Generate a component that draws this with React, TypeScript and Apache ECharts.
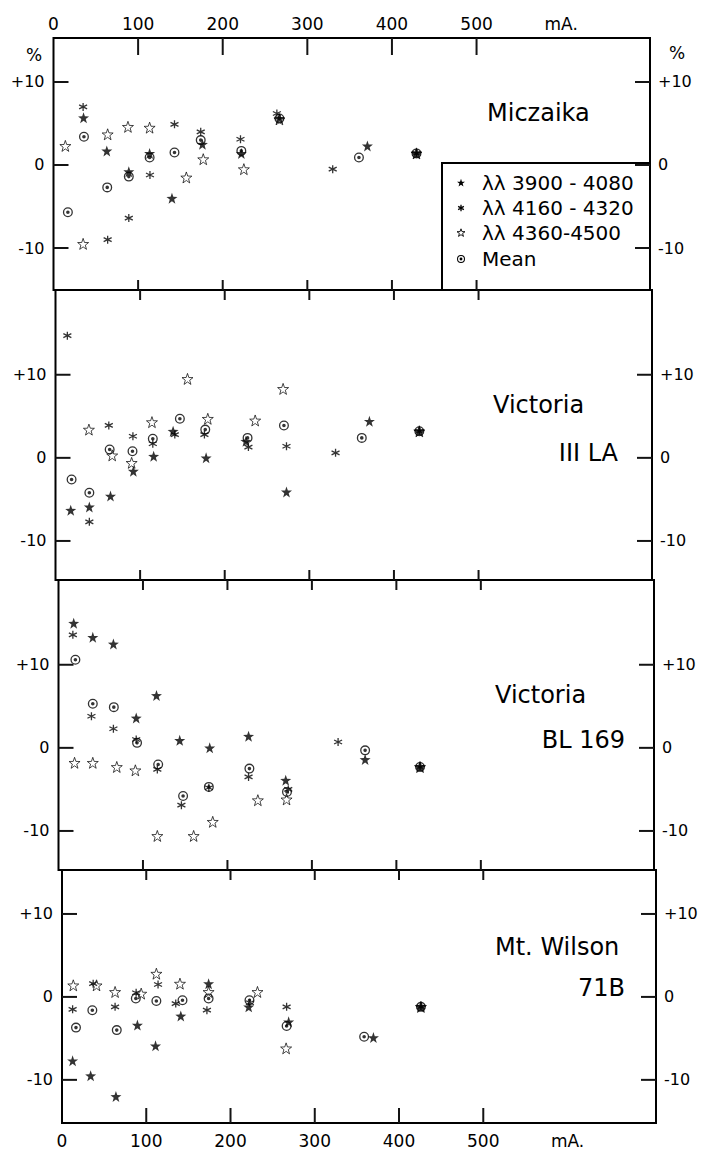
import React, { useEffect, useRef } from "react";
import * as echarts from "echarts";

// ---- Data (mA, % deviation) ----
const seriesNames = ["λλ 3900 - 4080", "λλ 4160 - 4320", "λλ 4360-4500", "Mean"];
const panelTitles = ["Miczaika", "Victoria", "Victoria", "Mt. Wilson"];
const panelSubtitles = ["", "III LA", "BL 169", "71B"];
const xTickValues = [100, 200, 300, 400, 500];
const xLabelValues = [0, 100, 200, 300, 400, 500, 600];
const yTickValues = [-10, 0, 10];

// Miczaika
const micA = [[35.5, 5.7], [63, 1.7], [89, -0.8], [113.6, 1.4], [140, -4.0], [176, 2.5], [222, 1.4], [267, 5.6], [371, 2.3], [429, 1.4]];
const micB = [[35, 7.0], [64, -9.0], [89, -6.4], [114, -1.2], [143, 4.9], [174, 4.0], [221, 3.1], [264, 6.2], [330, -0.5], [429, 1.4]];
const micC = [[14, 2.3], [35, -9.5], [64, 3.7], [88, 4.6], [113.6, 4.5], [157, -1.5], [177, 0.7], [225, -0.5], [267, 5.5], [429, 1.4]];
const micM = [[17, -5.7], [36, 3.4], [63.5, -2.7], [89, -1.4], [113.6, 0.9], [143, 1.5], [174, 3.0], [222, 1.7], [267, 5.6], [361, 0.9], [429, 1.4]];

// Victoria III LA
const vlaA = [[18, -6.3], [40, -5.9], [65, -4.6], [92, -1.6], [116, 0.2], [139, 3.2], [178, 0], [225, 2.0], [273, -4.1], [371, 4.4], [430, 3.2]];
const vlaB = [[14, 14.7], [40, -7.7], [63, 3.9], [91.5, 2.6], [115, 1.7], [141, 2.8], [176, 2.8], [228, 1.3], [273, 1.4], [331, 0.6], [430, 3.2]];
const vlaC = [[39.5, 3.4], [67, 0.3], [90, -0.6], [114, 4.3], [156, 9.5], [180, 4.7], [236, 4.5], [269, 8.3], [430, 3.2]];
const vlaM = [[19, -2.6], [40, -4.2], [64, 1.0], [91, 0.8], [115, 2.3], [147, 4.7], [177, 3.4], [227, 2.4], [270, 3.9], [362, 2.4], [430, 3.2]];

// Victoria BL 169
const vblA = [[18, 15.0], [40.6, 13.3], [65, 12.5], [92, 3.6], [116, 6.3], [143.5, 0.9], [179, 0], [225, 1.4], [269, -3.9], [363, -1.4], [428, -2.3]];
const vblB = [[17, 13.6], [39, 3.8], [65, 2.3], [92, 1.0], [117, -2.6], [145.5, -6.9], [178, -4.8], [225, -3.5], [272, -5.0], [331, 0.7], [428, -2.3]];
const vblC = [[19, -1.8], [40.6, -1.8], [69, -2.3], [91, -2.7], [117, -10.6], [160, -10.6], [182.6, -8.9], [236, -6.3], [270, -6.2], [428, -2.3]];
const vblM = [[20, 10.6], [40.6, 5.3], [65.5, 4.9], [93, 0.6], [118, -2.0], [147.5, -5.8], [178, -4.7], [226, -2.5], [270.5, -5.3], [363, -0.3], [428, -2.3]];

// Mt. Wilson 71B
const mwA = [[12.6, -7.7], [34, -9.5], [64, -12.0], [89.5, -3.4], [111, -5.9], [141, -2.3], [174, 1.6], [221.6, -1.2], [269, -3.0], [369.6, -4.9], [426, -1.2]];
const mwB = [[12.6, -1.5], [37, 1.6], [63, -1.2], [88, 0.5], [114, 1.5], [135, -0.8], [172, -1.6], [223, -0.7], [266.6, -1.2], [426, -1.2]];
const mwC = [[13.4, 1.4], [41, 1.4], [63, 0.6], [94, 0.4], [112, 2.8], [140, 1.6], [174, 0.6], [232, 0.6], [266, -6.2], [426, -1.2]];
const mwM = [[16.6, -3.7], [36, -1.6], [65, -4.0], [87.6, -0.2], [112, -0.5], [143, -0.4], [174, -0.2], [222.5, -0.4], [266.6, -3.5], [358.6, -4.8], [426, -1.2]];

const panelData = [
  [micA, micB, micC, micM],
  [vlaA, vlaB, vlaC, vlaM],
  [vblA, vblB, vblC, vblM],
  [mwA, mwB, mwC, mwM],
];

// ---- Layout ----
const W = 701;
const H = 1150;
const FONT = '"DejaVu Sans", sans-serif';
const gridBoxes = [
  { left: 53.5, right: 51, top: 38, height: 252 },
  { left: 55.5, right: 49, top: 290, height: 290 },
  { left: 58.5, right: 47, top: 580, height: 290 },
  { left: 62, right: 45, top: 870, height: 253 },
];
const yRanges = [
  [-15.06, 15.3],
  [-14.7, 20.2],
  [-14.7, 20.2],
  [-15.2, 15.3],
];
const X_MAX = 705;

const STAR_D = "M0,-10L2.35,-3.24L9.51,-3.09L3.8,1.24L5.88,8.09L0,4L-5.88,8.09L-3.8,1.24L-9.51,-3.09L-2.35,-3.24Z";
const ASTER_D = "M0,-10L0,10M-8.66,-5L8.66,5M-8.66,5L8.66,-5";
const MEAN_D =
  "M0,-10A10,10,0,1,1,0,10A10,10,0,1,1,0,-10ZM0,-7.4A7.4,7.4,0,1,0,0,7.4A7.4,7.4,0,1,0,0,-7.4ZM0,-3.6A3.6,3.6,0,1,1,0,3.6A3.6,3.6,0,1,1,0,-3.6Z";

const shapeNames = ["legStar", "legAster", "legStar", "legMean"];
let shapesRegistered = false;
function registerShapes() {
  if (shapesRegistered) return;
  shapesRegistered = true;
  echarts.graphic.registerShape("legStar", echarts.graphic.extendPath(STAR_D, {}) as any);
  echarts.graphic.registerShape("legAster", echarts.graphic.extendPath(ASTER_D, {}) as any);
  echarts.graphic.registerShape("legMean", echarts.graphic.extendPath(MEAN_D, {}) as any);
}

const symbolDefs = [
  { symbol: "path://" + STAR_D, size: 11, itemStyle: { color: "#000", borderWidth: 0 } },
  { symbol: "path://" + ASTER_D, size: 8, itemStyle: { color: "rgba(0,0,0,0)", borderColor: "#000", borderWidth: 1.3 } },
  { symbol: "path://" + STAR_D, size: 11, itemStyle: { color: "rgba(255,255,255,0)", borderColor: "#000", borderWidth: 0.9 } },
  { symbol: "path://" + MEAN_D, size: 10, itemStyle: { color: "#000", borderWidth: 0 } },
];
const legendStyles = [
  { scale: 0.42, style: { fill: "#000", stroke: "none" } },
  { scale: 0.33, style: { fill: "none", stroke: "#000", lineWidth: 1.3, strokeNoScale: true } },
  { scale: 0.42, style: { fill: "none", stroke: "#000", lineWidth: 0.9, strokeNoScale: true } },
  { scale: 0.4, style: { fill: "#000", stroke: "none" } },
];

const TICK_FILL = { fill: "#141414" };

function buildOption() {
  const grid = gridBoxes.map((g) => ({
    left: g.left,
    right: g.right,
    top: g.top,
    height: g.height,
    show: true,
    borderColor: "#000",
    borderWidth: 2,
    backgroundColor: "transparent",
  }));

  const xAxis: any[] = [];
  const yAxis: any[] = [];
  gridBoxes.forEach((_, g) => {
    ["bottom", "top"].forEach((pos) => {
      const isOuterTop = g === 0 && pos === "top";
      const isOuterBottom = g === 3 && pos === "bottom";
      xAxis.push({
        type: "value",
        gridIndex: g,
        position: pos,
        min: 0,
        max: X_MAX,
        axisLine: { show: false, onZero: false },
        splitLine: { show: false },
        axisTick: { show: false },
        axisLabel: {
          show: isOuterTop || isOuterBottom,
          customValues: xLabelValues,
          formatter: (v: number) => (v === 600 ? "mA." : String(v)),
          color: "#000",
          fontSize: 17,
          fontFamily: FONT,
          margin: isOuterTop ? 6 : 9,
        },
      });
    });
    ["left", "right"].forEach((pos) => {
      yAxis.push({
        type: "value",
        gridIndex: g,
        position: pos,
        min: yRanges[g][0],
        max: yRanges[g][1],
        axisLine: { show: false, onZero: false },
        splitLine: { show: false },
        axisTick: { show: false },
        axisLabel: {
          show: true,
          customValues: yTickValues,
          formatter: (v: number) => (v > 0 ? "+" + v : String(v)),
          color: "#000",
          fontSize: 16,
          fontFamily: FONT,
          margin: pos === "left" ? 9 : 8,
        },
      });
    });
  });

  const series: any[] = [];
  panelData.forEach((sets, g) => {
    sets.forEach((data, k) => {
      const d = symbolDefs[k];
      series.push({
        type: "scatter",
        name: seriesNames[k],
        xAxisIndex: 2 * g,
        yAxisIndex: 2 * g,
        data,
        symbol: d.symbol,
        symbolSize: d.size,
        itemStyle: d.itemStyle,
        z: k === 3 ? 3 : 2,
        silent: true,
      });
    });

    // tick marks, placed through the axes' scales, drawn as thin filled rects
    const yMin = yRanges[g][0];
    const yMax = yRanges[g][1];
    const lenTop = g === 0 ? 17 : 10;
    const lenBot = g === 3 ? 15 : 10;
    series.push({
      type: "custom",
      name: "xticks" + g,
      xAxisIndex: 2 * g,
      yAxisIndex: 2 * g,
      silent: true,
      z: 30,
      clip: false,
      data: xTickValues.map((v) => [v, 0]),
      renderItem: (params: any, api: any) => {
        const v = api.value(0);
        const pt = api.coord([v, yMax]);
        const pb = api.coord([v, yMin]);
        return {
          type: "group",
          children: [
            { type: "rect", shape: { x: pt[0] - 1, y: pt[1], width: 2, height: lenTop }, style: TICK_FILL },
            { type: "rect", shape: { x: pb[0] - 1, y: pb[1] - lenBot, width: 2, height: lenBot }, style: TICK_FILL },
          ],
        };
      },
    });
    series.push({
      type: "custom",
      name: "yticks" + g,
      xAxisIndex: 2 * g,
      yAxisIndex: 2 * g,
      silent: true,
      z: 30,
      clip: false,
      data: yTickValues.map((v) => [0, v]),
      renderItem: (params: any, api: any) => {
        const v = api.value(1);
        const pl = api.coord([0, v]);
        const pr = api.coord([X_MAX, v]);
        return {
          type: "group",
          children: [
            { type: "rect", shape: { x: pl[0], y: pl[1] - 1, width: 15, height: 2 }, style: TICK_FILL },
            { type: "rect", shape: { x: pr[0] - 15, y: pr[1] - 1, width: 15, height: 2 }, style: TICK_FILL },
          ],
        };
      },
    });
  });

  const titleY = [113, 405, 695, 947];
  const titleX = [487, 493, 495, 495];
  const subY = [0, 453, 740, 988];
  const subX = [0, 618, 625, 625];

  const graphic: any[] = [
    {
      type: "rect",
      shape: { x: 442, y: 163, width: 208, height: 127 },
      style: { fill: "none", stroke: "#000", lineWidth: 2 },
      silent: true,
    },
    {
      type: "text",
      x: 34,
      y: 55,
      style: { text: "%", fontSize: 17, fontFamily: FONT, fill: "#000", textAlign: "center", textVerticalAlign: "middle" },
    },
    {
      type: "text",
      x: 677,
      y: 53,
      style: { text: "%", fontSize: 17, fontFamily: FONT, fill: "#000", textAlign: "center", textVerticalAlign: "middle" },
    },
  ];
  const legendRows = [183, 208, 233, 259];
  seriesNames.forEach((name, k) => {
    const ls = legendStyles[k];
    graphic.push({
      type: shapeNames[k],
      x: 461,
      y: legendRows[k],
      scaleX: ls.scale,
      scaleY: ls.scale,
      style: ls.style,
      silent: true,
    });
    graphic.push({
      type: "text",
      x: 482,
      y: legendRows[k],
      style: { text: name, fontSize: 20, fontFamily: FONT, fill: "#000", textAlign: "left", textVerticalAlign: "middle" },
    });
  });
  panelTitles.forEach((t, g) => {
    graphic.push({
      type: "text",
      x: titleX[g],
      y: titleY[g],
      style: { text: t, fontSize: 24, fontFamily: FONT, fill: "#000", textAlign: "left", textVerticalAlign: "middle" },
    });
    if (panelSubtitles[g]) {
      graphic.push({
        type: "text",
        x: subX[g],
        y: subY[g],
        style: {
          text: panelSubtitles[g],
          fontSize: 24,
          fontFamily: FONT,
          fill: "#000",
          textAlign: "right",
          textVerticalAlign: "middle",
        },
      });
    }
  });

  return {
    animation: false,
    backgroundColor: "#fff",
    grid,
    xAxis,
    yAxis,
    series,
    graphic,
  };
}

export default function App() {
  const ref = useRef<HTMLDivElement>(null);
  useEffect(() => {
    if (!ref.current) return;
    registerShapes();
    const chart = echarts.init(ref.current, undefined, { renderer: "svg" });
    chart.setOption(buildOption() as any);
    return () => chart.dispose();
  }, []);
  return (
    <div
      ref={ref}
      style={{ position: "absolute", left: 0, top: 0, width: W, height: H, background: "#fff" }}
    />
  );
}
